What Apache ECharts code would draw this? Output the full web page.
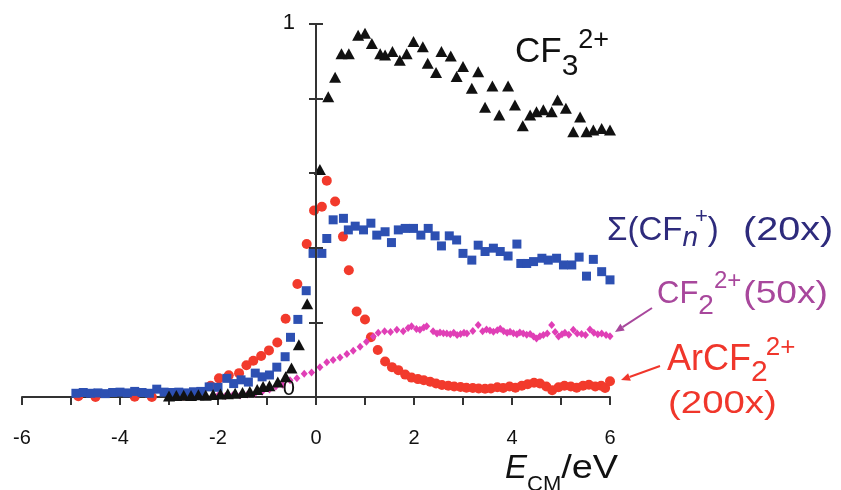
<!DOCTYPE html>
<html><head><meta charset="utf-8">
<script src="https://cdn.jsdelivr.net/npm/echarts@6/dist/echarts.min.js"></script>
<style>html,body{margin:0;padding:0;background:#fff}#c{width:841px;height:490px}</style>
</head><body><div id="c"></div><script>
// ---- data (E_CM in eV, relative intensity) ----
const xTickLabels = [-6, -4, -2, 0, 2, 4, 6];
const yTickLabels = [0, 1];
const cf3Pts = [[-3.0,0.003],[-2.85,0.004],[-2.7,0.005],[-2.55,0.004],[-2.4,0.006],[-2.25,0.005],[-2.1,0.007],[-1.95,0.008],[-1.8,0.009],[-1.65,0.01],[-1.5,0.012],[-1.35,0.015],[-1.2,0.02],[-1.08,0.028],[-0.95,0.03],[-0.78,0.04],[-0.62,0.054],[-0.5,0.078],[-0.35,0.14],[-0.18,0.25],[0.08,0.61],[0.25,0.805],[0.39,0.857],[0.52,0.92],[0.67,0.92],[0.86,0.97],[1.0,0.975],[1.14,0.948],[1.31,0.92],[1.41,0.917],[1.56,0.926],[1.71,0.903],[1.85,0.92],[1.99,0.953],[2.18,0.939],[2.28,0.895],[2.45,0.87],[2.56,0.926],[2.75,0.914],[2.87,0.859],[3.0,0.886],[3.18,0.828],[3.31,0.872],[3.45,0.777],[3.6,0.834],[3.74,0.756],[3.92,0.834],[4.06,0.783],[4.22,0.727],[4.37,0.756],[4.5,0.765],[4.64,0.77],[4.81,0.765],[4.93,0.796],[5.1,0.774],[5.25,0.711],[5.39,0.751],[5.52,0.711],[5.66,0.716],[5.83,0.72],[6.0,0.716]];
const sumCFnPts = [[-4.9,0.01],[-4.75,0.012],[-4.6,0.01],[-4.45,0.011],[-4.3,0.009],[-4.15,0.012],[-4.0,0.013],[-3.85,0.011],[-3.7,0.015],[-3.55,0.012],[-3.4,0.01],[-3.25,0.021],[-3.1,0.013],[-2.95,0.012],[-2.8,0.013],[-2.65,0.011],[-2.5,0.014],[-2.35,0.015],[-2.18,0.027],[-2.0,0.026],[-1.82,0.05],[-1.68,0.036],[-1.53,0.046],[-1.38,0.04],[-1.24,0.064],[-1.1,0.054],[-0.95,0.059],[-0.8,0.08],[-0.63,0.108],[-0.52,0.16],[-0.37,0.208],[-0.2,0.285],[-0.06,0.385],[0.12,0.385],[0.22,0.425],[0.35,0.475],[0.56,0.479],[0.66,0.448],[0.8,0.458],[0.97,0.448],[1.12,0.466],[1.24,0.434],[1.41,0.443],[1.54,0.414],[1.68,0.448],[1.82,0.452],[1.99,0.452],[2.14,0.434],[2.29,0.452],[2.43,0.432],[2.56,0.405],[2.72,0.432],[2.87,0.421],[3.0,0.385],[3.18,0.367],[3.31,0.407],[3.45,0.39],[3.62,0.399],[3.76,0.39],[3.92,0.378],[4.1,0.41],[4.18,0.358],[4.3,0.358],[4.44,0.363],[4.61,0.372],[4.74,0.367],[4.91,0.372],[5.05,0.354],[5.22,0.354],[5.37,0.375],[5.52,0.324],[5.66,0.369],[5.83,0.336],[6.0,0.314]];
const cf2Pts = [[-2.0,0.004],[-1.85,0.003],[-1.7,0.005],[-1.55,0.004],[-1.4,0.007],[-1.25,0.009],[-1.1,0.014],[-0.95,0.02],[-0.82,0.028],[-0.68,0.033],[-0.53,0.045],[-0.39,0.05],[-0.24,0.062],[-0.09,0.066],[0.08,0.08],[0.22,0.093],[0.35,0.099],[0.49,0.106],[0.63,0.115],[0.76,0.124],[0.9,0.135],[1.03,0.148],[1.17,0.162],[1.27,0.172],[1.4,0.176],[1.52,0.174],[1.65,0.18],[1.78,0.176],[1.88,0.185],[1.95,0.19],[2.05,0.182],[2.12,0.18],[2.2,0.186],[2.26,0.19],[2.39,0.176],[2.47,0.17],[2.53,0.173],[2.6,0.171],[2.67,0.17],[2.74,0.168],[2.81,0.172],[2.88,0.166],[2.95,0.169],[3.02,0.172],[3.08,0.17],[3.2,0.177],[3.31,0.193],[3.4,0.176],[3.48,0.181],[3.55,0.178],[3.62,0.175],[3.7,0.179],[3.76,0.183],[3.83,0.176],[3.9,0.172],[3.96,0.175],[4.03,0.171],[4.1,0.168],[4.16,0.173],[4.23,0.17],[4.3,0.167],[4.37,0.169],[4.44,0.162],[4.5,0.157],[4.57,0.163],[4.64,0.166],[4.72,0.17],[4.81,0.193],[4.88,0.174],[4.95,0.162],[5.02,0.168],[5.08,0.172],[5.16,0.167],[5.25,0.18],[5.33,0.17],[5.42,0.169],[5.5,0.166],[5.59,0.181],[5.67,0.172],[5.75,0.168],[5.83,0.17],[5.92,0.166],[6.0,0.163]];
const arcf2Pts = [[-4.85,0.002],[-4.5,0.0],[-4.1,-0.004],[-3.7,0.001],[-3.35,0.0],[-3.0,-0.005],[-2.7,0.004],[-2.4,0.012],[-2.15,0.03],[-1.98,0.05],[-1.78,0.058],[-1.57,0.064],[-1.42,0.085],[-1.28,0.097],[-1.12,0.11],[-0.96,0.125],[-0.79,0.146],[-0.62,0.21],[-0.38,0.303],[-0.19,0.41],[-0.04,0.5],[0.12,0.51],[0.22,0.58],[0.39,0.524],[0.55,0.43],[0.67,0.34],[0.83,0.229],[1.0,0.208],[1.12,0.16],[1.26,0.126],[1.41,0.095],[1.55,0.08],[1.68,0.072],[1.82,0.06],[1.95,0.052],[2.08,0.048],[2.2,0.045],[2.33,0.041],[2.45,0.036],[2.57,0.032],[2.7,0.03],[2.82,0.028],[2.95,0.027],[3.07,0.025],[3.2,0.024],[3.32,0.023],[3.45,0.022],[3.57,0.023],[3.7,0.026],[3.82,0.024],[3.95,0.028],[4.07,0.025],[4.2,0.03],[4.32,0.034],[4.45,0.038],[4.57,0.036],[4.7,0.028],[4.82,0.018],[4.95,0.026],[5.07,0.03],[5.2,0.028],[5.32,0.025],[5.45,0.03],[5.57,0.033],[5.7,0.028],[5.82,0.03],[5.9,0.024],[6.0,0.042]];

// ---- layout / styling ----
const X_MIN = -6, X_MAX = 6;
const GRID = { left: 22, right: 231, top: 24, bottom: 93 };
const GRID_W = 841 - GRID.left - GRID.right;
// distance from the grid's left edge to the x = 0 line (where the y axis sits)
const Y_AXIS_SHIFT = (0 - X_MIN) / (X_MAX - X_MIN) * GRID_W;
const FF = '"Liberation Sans", Arial, Helvetica, sans-serif';
const C_BLACK = '#111111', C_BLUE = '#2d50b2', C_MAG = '#e03fb6', C_RED = '#f23a2c';
const C_NAVY = '#2e2b7c', C_PURP = '#a8479c', C_RLAB = '#f0362b';

const mctx = document.createElement('canvas').getContext('2d');
function tw(t, fs, it) { mctx.font = (it ? 'italic ' : '') + fs + 'px "Liberation Sans"'; return mctx.measureText(t).width; }
function textRun(parts, x0, base, color) {
  const out = []; let x = x0;
  parts.forEach(p => {
    x += (p.dx || 0);
    const sx = p.sx || 1;
    out.push({
      type: 'text', x: x, y: base + (p.dy || 0) - 0.35 * p.fs, scaleX: sx, originX: 0, originY: 0, z: 100,
      style: { text: p.t, fontSize: p.fs, fontFamily: FF, fontStyle: p.it ? 'italic' : 'normal',
        fill: p.c || color, align: 'left', verticalAlign: 'middle', textAlign: 'left', textVerticalAlign: 'middle' }
    });
    x += tw(p.t, p.fs, p.it) * sx;
  });
  return out;
}
function arrow(x1, y1, x2, y2, color) {
  const dx = x2 - x1, dy = y2 - y1, L = Math.hypot(dx, dy), ux = dx / L, uy = dy / L;
  const hl = 9, hw = 4;
  const bx = x2 - ux * hl, by = y2 - uy * hl;
  return [
    { type: 'line', z: 100, shape: { x1: x1, y1: y1, x2: bx, y2: by }, style: { stroke: color, lineWidth: 2 } },
    { type: 'polygon', z: 100, shape: { points: [[x2, y2], [bx - uy * hw, by + ux * hw], [bx + uy * hw, by - ux * hw]] }, style: { fill: color } }
  ];
}

const graphics = [].concat(
  textRun([{ t: 'CF', fs: 35 }, { t: '3', fs: 30, dy: 12 }, { t: '2+', fs: 27, dy: -15 }], 515, 65, C_BLACK),
  textRun([{ t: 'Σ(CF', fs: 33 }, { t: 'n', fs: 28, it: true, dy: 6 }, { t: '+', fs: 22, dy: -17, dx: -3 }, { t: ')', fs: 33 }], 607, 242, C_NAVY),
  textRun([{ t: '(20x)', fs: 33, sx: 1.2 }], 743, 242, C_NAVY),
  textRun([{ t: 'CF', fs: 31 }, { t: '2', fs: 28, dy: 11 }, { t: '2+', fs: 24, dy: -15 }, { t: '(50x)', fs: 31, sx: 1.2, dx: 2 }], 657, 305, C_PURP),
  textRun([{ t: 'ArCF', fs: 36 }, { t: '2', fs: 30, dy: 10 }, { t: '2+', fs: 26, dy: -16, dx: -2 }], 667, 373, C_RLAB),
  textRun([{ t: '(200x)', fs: 32, sx: 1.2 }], 668, 415, C_RLAB),
  textRun([{ t: 'E', fs: 33, it: true }, { t: 'CM', fs: 22, dy: 13 }, { t: '/eV', fs: 33, sx: 1.15 }], 505, 480, '#111'),
  arrow(652, 308, 615, 332, C_PURP),
  arrow(660, 366, 621, 380, C_RLAB)
);

const chart = echarts.init(document.getElementById('c'), null, { renderer: 'canvas' });
const yCommon = { type: 'value', min: 0, max: 1, interval: 0.2, splitLine: { show: false } };
chart.setOption({
  animation: false,
  backgroundColor: '#fff',
  grid: Object.assign({ containLabel: false, outerBoundsMode: 'none' }, GRID),
  xAxis: {
    type: 'value', min: X_MIN, max: X_MAX, interval: 1,
    axisLine: { onZero: true, lineStyle: { color: '#333', width: 2 } },
    axisTick: { length: 8, lineStyle: { color: '#333', width: 2 } },
    axisLabel: { margin: 31, fontSize: 20, color: '#111', fontFamily: FF, hideOverlap: false,
      formatter: v => (xTickLabels.indexOf(v) >= 0 ? String(v) : '') },
    splitLine: { show: false }
  },
  yAxis: [
    Object.assign({}, yCommon, {
      z: 10,
      axisLine: { show: true, onZero: true, onZeroAxisIndex: 0, lineStyle: { color: '#333', width: 2 } },
      axisTick: { show: true, length: 7, lineStyle: { color: '#333', width: 2 } },
      axisLabel: { margin: 21 - Y_AXIS_SHIFT, color: '#111', fontFamily: FF, fontSize: 22, hideOverlap: false,
        formatter: v => (yTickLabels.indexOf(v) === 0 ? '{z|0}' : (yTickLabels.indexOf(v) === 1 ? '{o|1}' : '')),
        rich: { z: { fontSize: 22, fontFamily: FF, color: '#111', padding: [0, 0, 16, 0] },
                o: { fontSize: 22, fontFamily: FF, color: '#111', padding: [0, 0, 2, 0] } } }
    }),
    Object.assign({}, yCommon, {
      position: 'left',
      axisLine: { show: false, onZero: true, onZeroAxisIndex: 0 },
      axisTick: { show: true, inside: true, length: 7, lineStyle: { color: '#333', width: 2 } },
      axisLabel: { show: false }
    })
  ],
  series: [
    { name: 'ArCF2 2+ (200x)', type: 'scatter', data: arcf2Pts, symbol: 'circle', symbolSize: 10, itemStyle: { color: C_RED, opacity: 1 }, z: 2 },
    { name: 'CF2 2+ (50x)', type: 'scatter', data: cf2Pts, symbol: 'diamond', symbolSize: [7, 8], itemStyle: { color: C_MAG, opacity: 1 }, z: 3 },
    { name: 'Sigma CFn+ (20x)', type: 'scatter', data: sumCFnPts, symbol: 'rect', symbolSize: 9, itemStyle: { color: C_BLUE, opacity: 1 }, z: 4 },
    { name: 'CF3 2+', type: 'scatter', data: cf3Pts, symbol: 'triangle', symbolSize: [12, 11], itemStyle: { color: C_BLACK, opacity: 1 }, z: 5 }
  ],
  graphic: graphics
});
</script></body></html>
